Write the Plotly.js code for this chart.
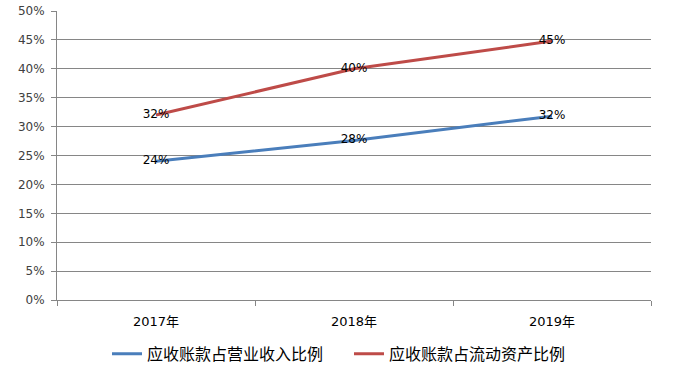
<!DOCTYPE html>
<html><head><meta charset="utf-8">
<script src="https://cdn.plot.ly/plotly-3.0.1.min.js"></script>
<style>html,body{margin:0;padding:0;background:#fff}</style>
</head><body>
<div id="chart" style="width:681px;height:374px"></div>
<script>
const categories = ['2017年', '2018年', '2019年'];
const seriesNames = ['应收账款占营业收入比例', '应收账款占流动资产比例'];
const revenueRatio = [0.240, 0.276, 0.318];
const currentAssetRatio = [0.320, 0.400, 0.448];
const yTickVals = [0, 0.05, 0.1, 0.15, 0.2, 0.25, 0.3, 0.35, 0.4, 0.45, 0.5];

const labelFont = {family: 'Verdana, "DejaVu Sans", sans-serif', size: 12, color: '#000'};
function pct(v) { return Math.round(v * 100) + '%'; }

const traces = [
  {x: categories, y: revenueRatio, name: seriesNames[0], mode: 'lines+text',
   line: {color: '#4a7ebb', width: 3}, text: revenueRatio.map(pct),
   textposition: 'middle center', textfont: labelFont, cliponaxis: false},
  {x: categories, y: currentAssetRatio, name: seriesNames[1], mode: 'lines+text',
   line: {color: '#be4b48', width: 3}, text: currentAssetRatio.map(pct),
   textposition: 'middle center', textfont: labelFont, cliponaxis: false}
];

const axisFont = {family: 'Verdana, "DejaVu Sans", sans-serif', size: 12, color: '#404040'};
const layout = {
  width: 681, height: 374,
  margin: {l: 57, r: 30, t: 11, b: 74, autoexpand: false},
  paper_bgcolor: '#fff', plot_bgcolor: '#fff',
  showlegend: true,
  legend: {orientation: 'h', xref: 'container', yref: 'container',
           x: 107 / 681, xanchor: 'left', y: 0.054, yanchor: 'middle',
           font: {family: '"Noto Sans CJK SC", sans-serif', size: 16, color: '#000'},
           itemwidth: 30, tracegroupgap: 0, entrywidth: 197, entrywidthmode: 'pixels'},
  xaxis: {type: 'category', range: [-0.5, 2.5], tickson: 'boundaries',
          ticks: 'outside', ticklen: 5, tickcolor: '#868686', ticklabelstandoff: 9,
          showline: true, linecolor: '#868686', linewidth: 1,
          showgrid: false, zeroline: false, automargin: false,
          tickfont: {family: '"DejaVu Sans", "Noto Sans CJK SC", sans-serif', size: 13, color: '#000'},
          fixedrange: true},
  yaxis: {range: [0, 0.5], tickvals: yTickVals, tickformat: '.0%',
          ticks: 'outside', ticklen: 5, tickcolor: '#868686',
          showline: true, linecolor: '#868686', linewidth: 1, ticklabelstandoff: 4,
          showgrid: true, gridcolor: '#868686', gridwidth: 1, zeroline: false, automargin: false,
          tickfont: axisFont, fixedrange: true}
};
Plotly.newPlot('chart', traces, layout, {displayModeBar: false, staticPlot: true});
</script>
</body></html>
